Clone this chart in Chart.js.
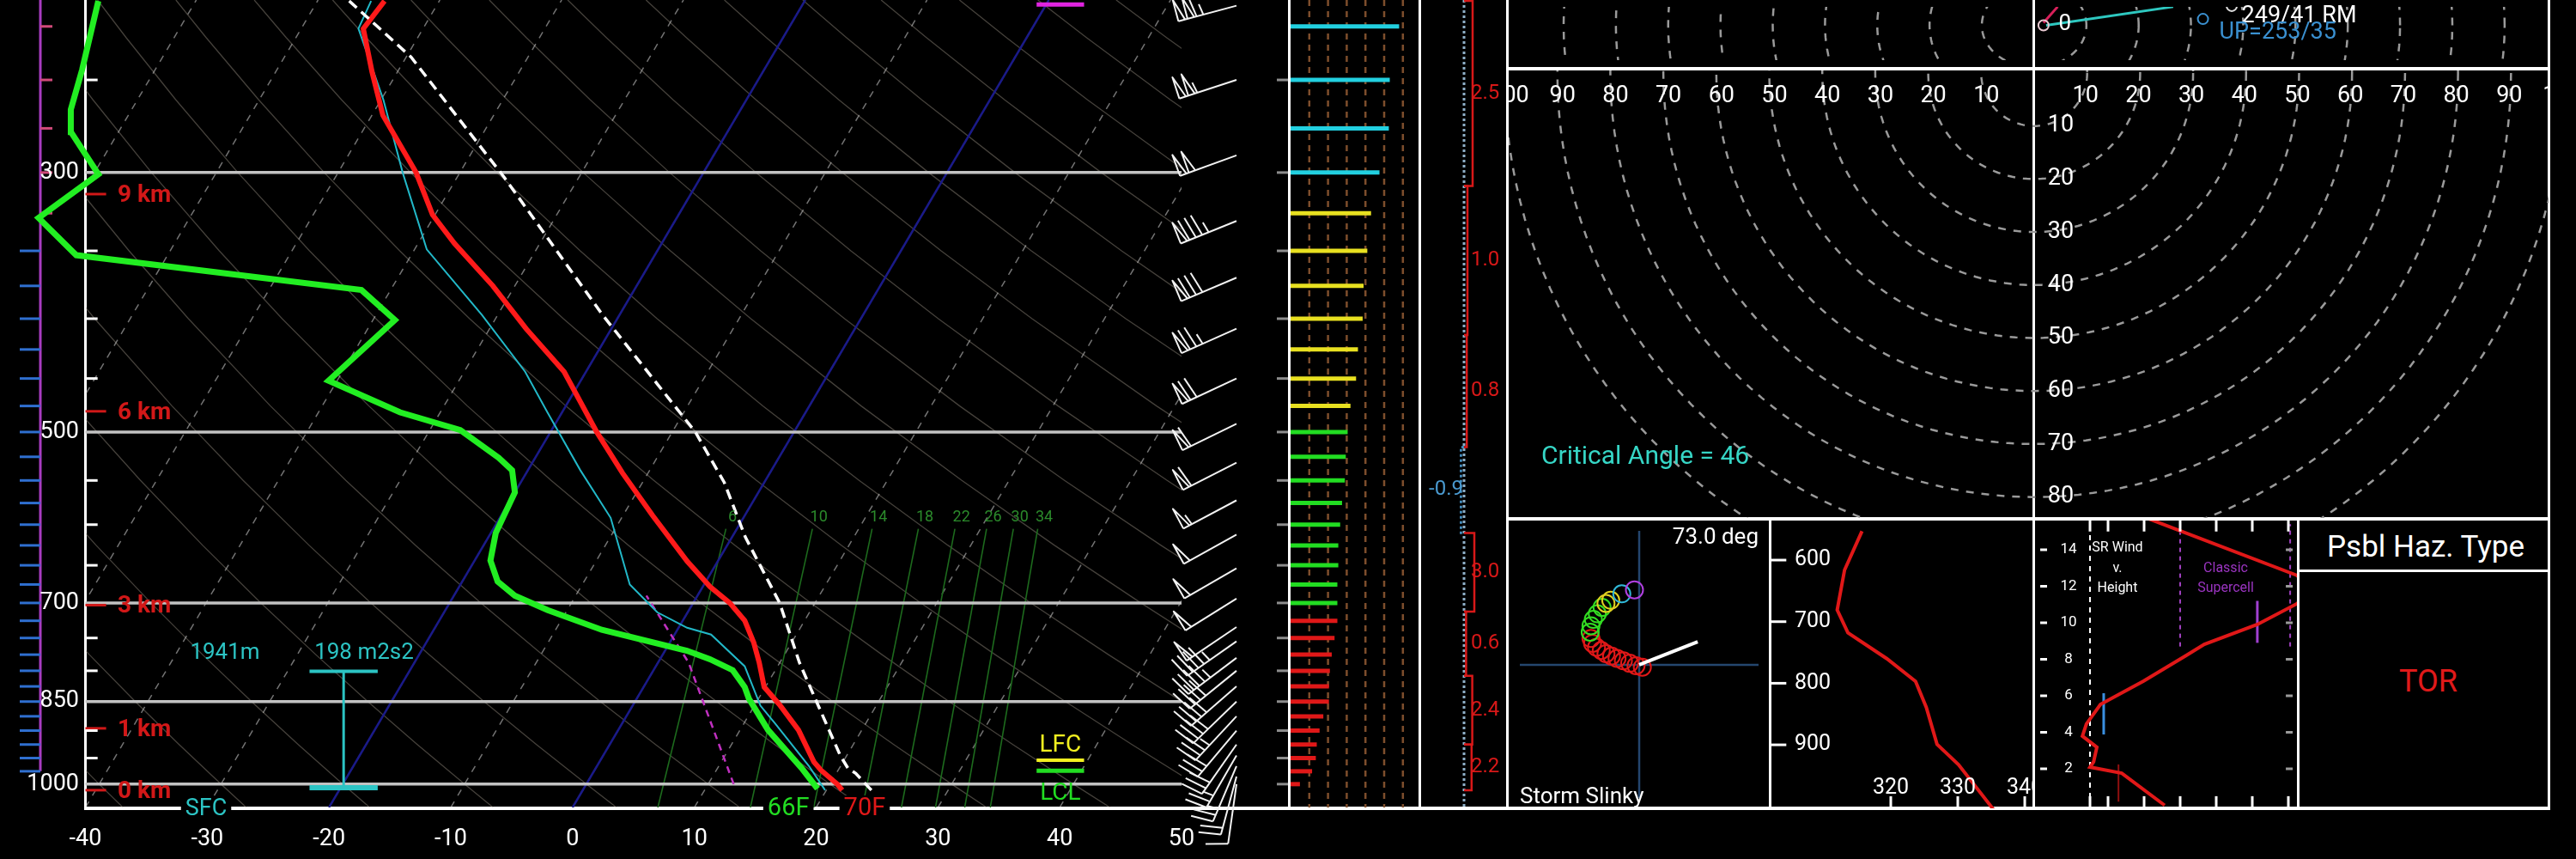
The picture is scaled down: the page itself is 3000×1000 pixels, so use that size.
<!DOCTYPE html>
<html>
<head>
<meta charset="utf-8">
<title>Sounding</title>
<script src="https://cdn.jsdelivr.net/npm/chart.js"></script>
<style>
  html, body { margin: 0; padding: 0; background: #000; }
  #page { position: relative; width: 3000px; height: 1000px; background: #000; overflow: hidden; }
  #page canvas { position: absolute; }
  .fr { position: absolute; background: #fff; }
  .lbl { position: absolute; font-family: Roboto, "Liberation Sans", sans-serif; white-space: nowrap; transform: translate(-50%, -50%); }
</style>
</head>
<body>
<div id="page">
  <!-- panel frames -->
  <div class="fr" style="left:98px;top:0;width:3px;height:943px"></div>
  <div class="fr" style="left:98px;top:939px;width:2872px;height:4px"></div>
  <div class="fr" style="left:1500px;top:0;width:3px;height:943px"></div>
  <div class="fr" style="left:1652px;top:0;width:3px;height:943px"></div>
  <div class="fr" style="left:1754px;top:0;width:3px;height:943px"></div>
  <div class="fr" style="left:2367px;top:0;width:3px;height:943px"></div>
  <div class="fr" style="left:2967px;top:0;width:3px;height:943px"></div>
  <div class="fr" style="left:1754px;top:78px;width:1216px;height:4px"></div>
  <div class="fr" style="left:1754px;top:602px;width:1216px;height:4px"></div>
  <div class="fr" style="left:2060px;top:604px;width:3px;height:338px"></div>
  <div class="fr" style="left:2675px;top:604px;width:3px;height:338px"></div>
  <div class="fr" style="left:2676px;top:663px;width:293px;height:3px"></div>

  <canvas id="skewt" width="1500" height="1000" style="left:0;top:0"></canvas>
  <canvas id="bars" width="152" height="1000" style="left:1503px;top:0"></canvas>
  <canvas id="adv" width="100" height="1000" style="left:1655px;top:0"></canvas>
  <canvas id="hodoTop" width="1211" height="78" style="left:1757px;top:0"></canvas>
  <canvas id="hodoMain" width="1211" height="521" style="left:1757px;top:82px"></canvas>
  <canvas id="slinky" width="302" height="335" style="left:1758px;top:606px"></canvas>
  <canvas id="thetae" width="304" height="335" style="left:2063px;top:606px"></canvas>
  <canvas id="srwind" width="304" height="335" style="left:2371px;top:606px"></canvas>

  <div class="lbl" style="left:2825px;top:636px;font-size:35px;color:#fff">Psbl Haz. Type</div>
  <div class="lbl" style="left:2828px;top:793px;font-size:36px;color:#e01a1a">TOR</div>
</div>
<script>
const FONT = 'Roboto, "Liberation Sans", sans-serif';
Chart.defaults.font.family = FONT;

// skew-T frame: top / bottom pressure and the skew of the isotherms (deg C per ln p)
const PTOP = 213.6, PBOT = 1047, SKEW = 24.6;

// environmental profiles (hPa, deg C)
const tempP = [1012, 1000, 973, 957, 899, 855, 826, 787, 757, 725, 700, 678, 645, 589, 542, 500, 444, 408, 375, 345, 326, 300, 268, 246, 226, 214];
const tempC = [21.3, 20.6, 18.6, 17.6, 14.8, 12.0, 9.9, 8.3, 6.9, 5.1, 3.0, 0.6, -2.5, -7.6, -12.1, -16.2, -21.8, -27.0, -31.8, -37.0, -40.2, -43.6, -49.1, -52.1, -54.9, -54.5];
const dwptP = [1009, 969, 899, 845, 826, 799, 782, 769, 738, 710, 690, 671, 644, 610, 563, 539, 526, 498, 481, 452, 401, 378, 353, 328, 301, 277, 265, 245, 214];
const dwptC = [19.2, 16.9, 12.3, 9.2, 8.3, 6.5, 4.1, 1.8, -6.2, -11.6, -15.0, -17.1, -18.7, -19.6, -20.0, -21.3, -23.0, -27.5, -33.3, -40.7, -38.2, -42.4, -67.5, -72.4, -69.6, -73.9, -75.0, -76.0, -78.0];
const wetbP = [1012, 965, 888, 857, 793, 745, 735, 713, 675, 592, 539, 481, 444, 397, 349, 300, 260, 226, 214];
const wetbC = [19.9, 17.4, 12.6, 10.5, 7.3, 3.0, 0.7, -2.5, -6.1, -10.9, -15.7, -21.2, -25.0, -31.3, -39.0, -44.7, -49.8, -55.3, -55.6];
const parcelP = [1012, 979, 969, 946, 866, 787, 700, 615, 552, 500, 397, 303, 239, 214];
const parcelC = [23.7, 21.6, 20.7, 19.5, 15.7, 11.6, 7.1, 1.1, -3.3, -8.1, -21.4, -36.1, -49.6, -57.4];
const downP = [1000, 787, 690];
const downC = [12.1, 2.5, -4.2];

// background lines
const isobarP = [1000, 850, 700, 500, 300];
const tempTicks = [-40, -30, -20, -10, 0, 10, 20, 30, 40, 50];
const isoT = [-80, -70, -60, -50, -40, -30, -20, -10, 0, 10, 20, 30, 40, 50];
const blueIsoT = [-20, 0];
const adiabatC = [-50, -40, -30, -20, -10, 0, 10, 20, 30, 40, 50, 60, 70, 80, 90, 100, 110, 120, 130, 140, 150, 160];
const adiaLevels = [1047, 1000, 925, 850, 775, 700, 625, 550, 475, 400, 350, 300, 260, 230, 213.6];
const mrLabel = [6, 10, 14, 18, 22, 26, 30, 34];
const mrTop = [-0.9, 6.2, 11.1, 14.9, 17.9, 20.5, 22.7, 24.7];
const mrBot = [7.0, 14.6, 19.8, 23.8, 27.0, 29.8, 32.2, 34.3];
const pTickP = [250, 350, 400, 450, 550, 600, 650, 750, 800, 900, 950];
const kmLabel = [0, 1, 3, 6, 9];
const kmP = [1012, 896, 703, 480, 313];
const sideTickP = [250, 300, 350, 400, 450, 500, 550, 600, 650, 700, 750, 800, 850, 900, 950, 1000];

// omega bar
const omegaP = [225, 250, 275, 300, 325, 350, 375, 400, 425, 450, 475, 500, 525, 550, 575, 600, 625, 650, 675, 700, 725, 750, 775, 800, 825, 850, 875, 900, 925, 950, 975];
const omegaV = [0.7, 0.7, 0.7, 0.7, 0.7, -1.2, -1.2, -1.2, -1.2, -1.2, -1.2, -1.2, -1.2, -1.2, -1.2, -1.2, -1.2, -1.2, -1.2, -1.2, -1.2, -1.2, -1.2, -1.2, -1.2, -1.2, -1.2, -1.2, -1.2, -1.2, -1.2];

// levels and annotations
const inflowTop = 801, inflowBot = 1007;
const inflowHgt = '1941m', inflowSrh = '198 m2s2';
const lfcP = 954, lclP = 974, elP = 215.5;
const sfcTdF = '66F', sfcTF = '70F';

// wind barbs (hPa, deg, kt)
const barbP = [1000, 985, 965, 945, 925, 900, 875, 850, 825, 800, 780, 755, 734, 694, 654, 612, 572, 531, 492, 450, 408, 369, 330, 290, 250, 216];
const barbDir = [188, 195, 203, 210, 215, 220, 223, 226, 229, 231, 233, 235, 236, 238, 240, 241, 242, 243, 244, 245, 246, 247, 248, 250, 252, 255];
const barbKt = [12, 20, 25, 27, 28, 31, 35, 41, 41, 42, 44, 47, 49, 50, 51, 52, 55, 59, 62, 70, 77, 80, 86, 100, 106, 115];

// wind speed bars (hPa, kt)
const windP = [1000, 975, 950, 925, 900, 875, 850, 825, 800, 775, 750, 725, 700, 675, 650, 625, 600, 575, 550, 525, 500, 475, 450, 425, 400, 375, 350, 325, 300, 275, 250, 225];
const windKt = [10, 23, 27, 28, 31, 35, 41, 41, 42, 44, 47, 50, 50, 50, 51, 51, 53, 55, 58, 59, 61, 64, 70, 72, 77, 78, 82, 86, 95, 105, 106, 116];
const barGridKt = [20, 40, 60, 80, 100, 120];

// inferred temperature advection layers
const advTop = [214, 308, 413, 515, 610, 712, 808, 925];
const advBot = [308, 413, 515, 610, 712, 808, 925, 1012];
const advVal = [2.5, 1.0, 0.8, -0.9, 3.0, 0.6, 2.4, 2.2];

// hodograph
const ringKt = [10, 20, 30, 40, 50, 60, 70, 80, 90, 100];
const ringLabelKt = [10, 20, 30, 40, 50, 60, 70, 80];
const hodoU = [2.3, 26.6];
const hodoV = [0, 4.4];
const hodoLowU = [1.8, 4.5];
const hodoLowV = [0.6, 4.4];
const rmU = 32.3, rmV = 1.5;
const critAngle = 46;

// storm slinky (offsets from storm position)
const slinkyX = [4, -4, -12, -20, -28, -35, -42, -48, -54, -59, -61, -62, -61, -58, -53, -47, -42, -36, -22, -6];
const slinkyY = [3, 1, -2, -5, -8, -11, -14, -18, -22, -27, -33, -41, -49, -57, -64, -72, -77, -81, -89, -94];
const slinkyVecX = 74, slinkyVecY = -29;

// theta-e profile
const thetaeP = [553, 616, 681, 718, 760, 797, 839, 899, 932, 1006];
const thetaeK = [315.7, 313.1, 312.0, 313.6, 319.4, 323.7, 325.3, 326.9, 330.1, 335.4];
const thetaTicks = [320, 330, 340];
const thetaPTicks = [600, 700, 800, 900];

// storm-relative wind vs height
const srKm = [0.0, 1.76, 2.09, 2.38, 3.18, 3.79, 4.45, 5.53, 6.80, 8.21, 8.82, 9.91, 11.04, 11.8, 12.6, 15.74];
const srKt = [35.7, 23.8, 15.0, 16.0, 16.9, 12.9, 14.0, 17.9, 29.8, 41.7, 46.7, 61.4, 72.3, 78, 72.3, 30.7];
const srTicksKm = [2, 4, 6, 8, 10, 12, 14];
const srTicksKt = [15, 20, 30, 40, 50, 60, 70];

const CYAN = '#2cc4c4';
const skx = (t, p) => t + SKEW * Math.log(PBOT / p);
const pts = (xs, ys) => xs.map((x, i) => ({x: x, y: ys[i]}));

function line(data, color, width, extra) {
  return Object.assign({data: data, showLine: true, borderColor: color, backgroundColor: color,
    borderWidth: width, pointRadius: 0, fill: false, tension: 0}, extra || {});
}

function txt(c, s, x, y, o) {
  o = o || {};
  const size = o.size || 26;
  c.save();
  c.font = (o.weight || 'normal') + ' ' + size + 'px ' + FONT;
  c.textAlign = o.align || 'center';
  c.textBaseline = 'middle';
  if (o.bg) {
    const w = c.measureText(s).width;
    let x0 = x - w / 2;
    if (c.textAlign === 'left') x0 = x;
    else if (c.textAlign === 'right') x0 = x - w;
    c.fillStyle = '#000';
    c.fillRect(x0 - 5, y - size * 0.55, w + 10, size * 1.1);
  }
  c.fillStyle = o.color || '#fff';
  c.fillText(s, x, y);
  c.restore();
}

function ring(r) {
  const out = [];
  for (let k = 0; k <= 180; k++) {
    const a = Math.PI * k / 90;
    out.push({x: r * Math.cos(a), y: r * Math.sin(a)});
  }
  return out;
}

function makeChart(id, datasets, scales, padding, plugins) {
  const sc = {};
  for (const k in scales) sc[k] = Object.assign({type: 'linear', display: false, bounds: 'data'}, scales[k]);
  return new Chart(document.getElementById(id), {
    type: 'scatter',
    data: {datasets: datasets},
    options: {
      responsive: false, animation: false, events: [],
      layout: {padding: padding || 0},
      plugins: {legend: {display: false}, tooltip: {enabled: false}},
      scales: sc
    },
    plugins: plugins || []
  });
}

function drawBarb(c, x, y, dir, kt) {
  const a = dir * Math.PI / 180, sx = Math.sin(a), sy = -Math.cos(a);
  const fx = -sy, fy = sx, L = 70, F = 26, G = 8;
  c.save();
  c.strokeStyle = '#f2f2f2';
  c.lineWidth = 2;
  c.lineJoin = 'round';
  c.beginPath(); c.moveTo(x, y); c.lineTo(x + sx * L, y + sy * L); c.stroke();
  let s = Math.round(kt / 5) * 5, d = L;
  while (s >= 50) {
    const bx = x + sx * d, by = y + sy * d;
    c.beginPath();
    c.moveTo(bx, by);
    c.lineTo(bx + fx * F, by + fy * F);
    c.lineTo(x + sx * (d - G), y + sy * (d - G));
    c.stroke();
    d -= G + 3; s -= 50;
  }
  while (s >= 10) {
    const bx = x + sx * d, by = y + sy * d;
    c.beginPath(); c.moveTo(bx, by); c.lineTo(bx + fx * F + sx * 4, by + fy * F + sy * 4); c.stroke();
    d -= G; s -= 10;
  }
  if (s >= 5) {
    if (d === L) d -= G;
    const bx = x + sx * d, by = y + sy * d;
    c.beginPath(); c.moveTo(bx, by); c.lineTo(bx + fx * F / 2 + sx * 2, by + fy * F / 2 + sy * 2); c.stroke();
  }
  c.restore();
}

// ---------------- skew-T ----------------
const clipL = {left: -100, top: 0, right: 0, bottom: 0};
const skewDs = [];
isoT.forEach(t => skewDs.push(line([{x: skx(t, PBOT), y: PBOT}, {x: skx(t, PTOP), y: PTOP}],
  'rgba(210,210,210,0.55)', 1.5, {borderDash: [8, 8], order: 30, clip: clipL})));
adiabatC.forEach(t0 => skewDs.push(line(adiaLevels.map(p => ({
  x: skx((t0 + 273.15) * Math.pow(p / 1000, 0.2857) - 273.15, p), y: p})),
  'rgba(165,155,140,0.42)', 1.3, {order: 31, clip: clipL})));
mrLabel.forEach((w, i) => skewDs.push(line([{x: skx(mrBot[i], PBOT), y: PBOT}, {x: skx(mrTop[i], 605), y: 605}],
  '#1d6a1d', 1.6, {order: 29})));
blueIsoT.forEach(t => skewDs.push(line([{x: skx(t, PBOT), y: PBOT}, {x: skx(t, PTOP), y: PTOP}],
  '#1a1a88', 2.5, {order: 28, clip: clipL})));
isobarP.forEach(p => skewDs.push(line([{x: -40, y: p}, {x: 50, y: p}], '#c2c2c2', 3.5, {order: 27})));
pTickP.forEach(p => skewDs.push(line([{x: -40, y: p}, {x: -39, y: p}], '#ffffff', 3, {order: 26})));
kmP.forEach(p => skewDs.push(line([{x: -40, y: p}, {x: -38.3, y: p}], '#d01818', 3, {order: 26})));
skewDs.push(line([{x: 0, y: PTOP}, {x: 0, y: 975}], '#a83cc0', 3, {xAxisID: 'xo', order: 25}));
omegaP.forEach((p, i) => skewDs.push(line([{x: 0, y: p}, {x: omegaV[i], y: p}],
  omegaV[i] > 0 ? '#d04a7a' : '#2f6fd0', 3, {xAxisID: 'xo', order: 24})));
const inflowX = -18.8;
skewDs.push(line([{x: inflowX, y: inflowTop}, {x: inflowX, y: inflowBot}], CYAN, 3, {order: 8}));
skewDs.push(line([{x: inflowX - 2.8, y: inflowTop}, {x: inflowX + 2.8, y: inflowTop}], CYAN, 4, {order: 8}));
skewDs.push(line([{x: inflowX - 2.8, y: inflowBot}, {x: inflowX + 2.8, y: inflowBot}], CYAN, 6, {order: 8}));
const markX0 = 38.1, markX1 = 42.0;
skewDs.push(line([{x: markX0, y: lfcP}, {x: markX1, y: lfcP}], '#f2f020', 4, {order: 7}));
skewDs.push(line([{x: markX0, y: lclP}, {x: markX1, y: lclP}], '#22dd22', 5, {order: 7}));
skewDs.push(line([{x: markX0, y: elP}, {x: markX1, y: elP}], '#e024e0', 5, {order: 7}));
skewDs.push(line(pts(downC.map((t, i) => skx(t, downP[i])), downP), '#c030c0', 2.5, {borderDash: [8, 6], order: 5}));
skewDs.push(line(pts(wetbC.map((t, i) => skx(t, wetbP[i])), wetbP), '#22b8c8', 2, {order: 4}));
skewDs.push(line(pts(dwptC.map((t, i) => skx(t, dwptP[i])), dwptP), '#22ee22', 7, {order: 3}));
skewDs.push(line(pts(tempC.map((t, i) => skx(t, tempP[i])), tempP), '#ff1a1a', 6, {order: 2}));
skewDs.push(line(pts(parcelC.map((t, i) => skx(t, parcelP[i])), parcelP), '#ffffff', 3.5, {borderDash: [12, 7], order: 1}));

const skewDecor = {
  id: 'skewDecor',
  afterDatasetsDraw(ch) {
    const c = ch.ctx, X = ch.scales.x, Y = ch.scales.y;
    const px = (t, p) => X.getPixelForValue(skx(t, p));
    const py = p => Y.getPixelForValue(p);
    c.save();
    c.strokeStyle = '#8c8c8c'; c.lineWidth = 3;
    sideTickP.forEach(p => { c.beginPath(); c.moveTo(1487, py(p)); c.lineTo(1500, py(p)); c.stroke(); });
    c.restore();
    barbP.forEach((p, i) => drawBarb(c, 1440, py(p), barbDir[i], barbKt[i]));
    isobarP.forEach(p => txt(c, String(p), 92, py(p), {size: 27, align: 'right'}));
    tempTicks.forEach(t => txt(c, String(t), X.getPixelForValue(t), 977, {size: 27}));
    kmLabel.forEach((k, i) => txt(c, k + ' km', 137, py(kmP[i]) + 2, {size: 28, align: 'left', color: '#d21818', weight: 'bold'}));
    mrLabel.forEach((w, i) => txt(c, String(w), px(mrTop[i], 592), py(592), {size: 18, color: '#2b8a2b'}));
    const yi = py(inflowTop) - 21;
    txt(c, inflowHgt, 262, yi, {size: 26, color: CYAN});
    txt(c, inflowSrh, 424, yi, {size: 26, color: CYAN});
    const yb = ch.chartArea.bottom + 2;
    txt(c, 'SFC', 240, yb, {size: 27, color: CYAN, bg: true});
    txt(c, sfcTdF, px(dwptC[0], PBOT) - 21, yb, {size: 29, color: '#22dd22', bg: true});
    txt(c, sfcTF, px(tempC[0], PBOT) + 38, yb, {size: 29, color: '#e01818', bg: true});
    const xm = X.getPixelForValue((markX0 + markX1) / 2);
    txt(c, 'LFC', xm, py(lfcP) - 17, {size: 28, color: '#f2f020'});
    txt(c, 'LCL', xm, py(lclP) + 27, {size: 28, color: '#22dd22'});
  }
};

makeChart('skewt', skewDs, {
  x: {min: -47.015, max: 50},
  xo: {axis: 'x', min: -2.35, max: 66.45},
  y: {type: 'logarithmic', min: PTOP, max: PBOT, reverse: true}
}, {left: 0, right: 124, top: 0, bottom: 60}, [skewDecor]);

// ---------------- wind speed bars ----------------
const layerColor = p => p >= 725 ? '#e01818' : p >= 500 ? '#22dd22' : p >= 325 ? '#e8e020' : '#22d0e0';
const barDs = [];
barGridKt.forEach(k => barDs.push(line([{x: k, y: PTOP}, {x: k, y: PBOT}], '#7e4e2c', 2.5, {borderDash: [7, 6], order: 5})));
windP.forEach((p, i) => barDs.push(line([{x: 0, y: p}, {x: windKt[i], y: p}], layerColor(p), 5, {order: 1})));
makeChart('bars', barDs, {
  x: {min: 0, max: 139.45},
  y: {type: 'logarithmic', min: PTOP, max: PBOT, reverse: true}
}, {bottom: 60});

// ---------------- temperature advection ----------------
const advDs = [line([{x: 0, y: PTOP}, {x: 0, y: PBOT}], '#8fb0c8', 3, {borderDash: [3, 3], order: 5})];
advVal.forEach((v, i) => advDs.push(line([{x: 0, y: advTop[i]}, {x: v, y: advTop[i]}, {x: v, y: advBot[i]}, {x: 0, y: advBot[i]}],
  v > 0 ? '#d81818' : '#4a9ad0', 2.5, v > 0 ? {order: 1} : {order: 1, borderDash: [3, 3]})));
const advText = {
  id: 'advText',
  afterDatasetsDraw(ch) {
    const c = ch.ctx, X = ch.scales.x, Y = ch.scales.y;
    advVal.forEach((v, i) => {
      const y = Y.getPixelForValue(Math.sqrt(advTop[i] * advBot[i]));
      if (v > 0) txt(c, v.toFixed(1), X.getPixelForValue(0) + 8, y, {size: 24, align: 'left', color: '#d81818'});
      else txt(c, v.toFixed(1), X.getPixelForValue(0) - 1, y, {size: 24, align: 'right', color: '#4a9ad0'});
    });
  }
};
makeChart('adv', advDs, {
  x: {min: -12.5, max: 12.5},
  y: {type: 'logarithmic', min: PTOP, max: PBOT, reverse: true}
}, {bottom: 60}, [advText]);

// ---------------- hodograph strip ----------------
const topDs = ringKt.map(r => line(ring(r), '#9a9a9a', 2.5, {borderDash: [9, 9], order: 5}));
topDs.push(line(pts(hodoU, hodoV), '#2ec8c0', 3, {order: 2}));
topDs.push(line(pts(hodoLowU, hodoLowV), '#d8205a', 3, {order: 1}));
topDs.push({data: [{x: hodoU[0] - 0.5, y: 0}], pointRadius: 6, pointBorderWidth: 2, pointBorderColor: '#e8c8d0', pointBackgroundColor: 'rgba(0,0,0,0)', order: 0});
topDs.push({data: [{x: rmU, y: rmV}], pointRadius: 6, pointBorderWidth: 2, pointBorderColor: '#3a90d0', pointBackgroundColor: 'rgba(0,0,0,0)', order: 0});
topDs.push({data: [{x: 37.8, y: 4.6}], pointRadius: 6, pointBorderWidth: 2, pointBorderColor: '#dddddd', pointBackgroundColor: 'rgba(0,0,0,0)', order: 0});
const topText = {
  id: 'topText',
  afterDatasetsDraw(ch) {
    const c = ch.ctx, X = ch.scales.x, Y = ch.scales.y;
    txt(c, '0', X.getPixelForValue(hodoU[0]) + 22, Y.getPixelForValue(0) - 1, {size: 26});
    txt(c, '249/41 RM', X.getPixelForValue(rmU) + 45, Y.getPixelForValue(rmV) - 3, {size: 27, align: 'left'});
    txt(c, 'UP=253/35', X.getPixelForValue(rmU) + 19, Y.getPixelForValue(rmV) + 16, {size: 27, align: 'left', color: '#3a90d0'});
  }
};
makeChart('hodoTop', topDs, {
  x: {min: -99.19, max: 97.08},
  y: {min: -8.266, max: 4.376}
}, 0, [topText]);

// ---------------- hodograph rings / critical angle ----------------
const mainDs = ringKt.map(r => line(ring(r), '#9a9a9a', 2.5, {borderDash: [9, 9]}));
const mainText = {
  id: 'mainText',
  afterDatasetsDraw(ch) {
    const c = ch.ctx, X = ch.scales.x, Y = ch.scales.y;
    ringKt.forEach(r => {
      txt(c, String(r), X.getPixelForValue(-r) + 6, 30, {size: 27});
      txt(c, String(r), X.getPixelForValue(r) - 2, 30, {size: 27});
    });
    ringLabelKt.forEach(r => txt(c, String(r), X.getPixelForValue(0) + 31, Y.getPixelForValue(r), {size: 27}));
    txt(c, 'Critical Angle = ' + critAngle, 38, 450, {size: 30, align: 'left', color: '#36d6c6'});
  }
};
makeChart('hodoMain', mainDs, {
  x: {min: -99.19, max: 97.08},
  y: {min: -0.486, max: 83.95, reverse: true}
}, 0, [mainText]);

// ---------------- storm slinky ----------------
const slColor = i => i < 11 ? '#e01818' : i < 16 ? '#33dd22' : i < 18 ? '#e0d020' : i < 19 ? '#30b8d8' : '#b040e0';
const slDs = [
  line([{x: -151, y: 0}, {x: 151, y: 0}], '#24466e', 2.5, {order: 5}),
  line([{x: 0, y: -168}, {x: 0, y: 167}], '#24466e', 2.5, {order: 5}),
  {data: pts(slinkyX, slinkyY), pointRadius: 10, pointBorderWidth: 2,
    pointBorderColor: slinkyX.map((v, i) => slColor(i)), pointBackgroundColor: 'rgba(0,0,0,0)', order: 2},
  line([{x: 0, y: 0}, {x: slinkyVecX, y: slinkyVecY}], '#ffffff', 4, {order: 1})
];
const slText = {
  id: 'slText',
  afterDatasetsDraw(ch) {
    const c = ch.ctx;
    txt(c, '73.0 deg', 290, 20, {size: 26, align: 'right'});
    txt(c, 'Storm Slinky', 12, 322, {size: 26, align: 'left'});
  }
};
makeChart('slinky', slDs, {x: {min: -151, max: 151}, y: {min: -168, max: 167, reverse: true}}, 0, [slText]);

// ---------------- theta-e vs pressure ----------------
const teDs = [line(pts(thetaeK, thetaeP), '#e01818', 4, {order: 1})];
thetaPTicks.forEach(p => teDs.push(line([{x: 302.18, y: p}, {x: 304.4, y: p}], '#ffffff', 3)));
thetaTicks.forEach(k => teDs.push(line([{x: k, y: 983.5}, {x: k, y: 1003.1}], '#ffffff', 3)));
const teText = {
  id: 'teText',
  afterDatasetsDraw(ch) {
    const c = ch.ctx, X = ch.scales.x, Y = ch.scales.y;
    thetaPTicks.forEach(p => txt(c, String(p), 27, Y.getPixelForValue(p), {size: 25, align: 'left'}));
    thetaTicks.forEach(k => txt(c, String(k), X.getPixelForValue(k), 312, {size: 25}));
  }
};
makeChart('thetae', teDs, {x: {min: 302.18, max: 341.15}, y: {min: 535.8, max: 1003.1, reverse: true}}, 0, [teText]);

// ---------------- storm-relative wind vs height ----------------
const srDs = [
  line([{x: 15, y: -0.165}, {x: 15, y: 15.6}], '#ffffff', 2, {borderDash: [6, 6], order: 6}),
  line([{x: 40, y: 8.7}, {x: 40, y: 15.4}], '#a040c0', 2, {borderDash: [5, 5], order: 6}),
  line([{x: 70.5, y: 8.7}, {x: 70.5, y: 15.4}], '#a040c0', 2, {borderDash: [5, 5], order: 6}),
  line(pts(srKt, srKm), '#e01818', 4, {order: 1}),
  line([{x: 18.8, y: 3.88}, {x: 18.8, y: 6.14}], '#3a8fe0', 3, {order: 2}),
  line([{x: 61.4, y: 8.9}, {x: 61.4, y: 11.2}], '#a040d0', 3, {order: 2}),
  line([{x: 22.9, y: 0.2}, {x: 22.9, y: 2.24}], '#901010', 2, {order: 2})
];
srTicksKt.forEach(k => {
  srDs.push(line([{x: k, y: -0.165}, {x: k, y: 0.5}], '#ffffff', 3));
  srDs.push(line([{x: k, y: 15.0}, {x: k, y: 15.6}], '#ffffff', 3));
});
srTicksKm.forEach(h => {
  srDs.push(line([{x: 1.2, y: h}, {x: 3.1, y: h}], '#ffffff', 3));
  srDs.push(line([{x: 69.3, y: h}, {x: 71.2, y: h}], '#9a9a9a', 3));
});
const srText = {
  id: 'srText',
  afterDatasetsDraw(ch) {
    const c = ch.ctx, Y = ch.scales.y;
    srTicksKm.forEach(h => txt(c, String(h), 38, Y.getPixelForValue(h), {size: 17}));
    txt(c, 'SR Wind', 95, 32, {size: 16});
    txt(c, 'v.', 95, 56, {size: 16});
    txt(c, 'Height', 95, 79, {size: 16});
    txt(c, 'Classic', 221, 56, {size: 16, color: '#9a34c0'});
    txt(c, 'Supercell', 221, 79, {size: 16, color: '#9a34c0'});
  }
};
makeChart('srwind', srDs, {x: {min: 0, max: 72.38}, y: {min: -0.165, max: 15.6}}, 0, [srText]);
</script>
</body>
</html>
